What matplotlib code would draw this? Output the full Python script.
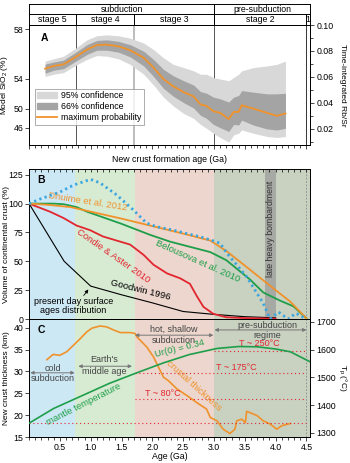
import matplotlib
matplotlib.use('Agg')
import matplotlib.pyplot as plt
from matplotlib.ticker import MultipleLocator, FixedLocator, NullFormatter
from matplotlib.patches import Patch
from matplotlib.lines import Line2D

plt.rcParams['font.family'] = ['Liberation Sans', 'DejaVu Sans']
plt.rcParams['font.size'] = 6.3
plt.rcParams['axes.linewidth'] = 0.7
plt.rcParams['mathtext.default'] = 'regular'

# ---------------- panel A: time-integrated Rb/Sr ----------------
age_a = [0.26, 0.40, 0.56, 0.76, 0.94, 1.10, 1.26, 1.45, 1.64, 1.86, 2.02, 2.18, 2.34, 2.51,
         2.67, 2.78, 2.88, 2.99, 3.10, 3.24, 3.32, 3.40, 3.45, 3.64, 3.86, 4.02, 4.16]
rbsr_max = [0.0664, 0.0685, 0.0697, 0.0755, 0.0811, 0.0846, 0.0849, 0.0836, 0.0806, 0.0748,
            0.0672, 0.0584, 0.0528, 0.0483, 0.0450, 0.0389, 0.0377, 0.0336, 0.0324, 0.0276,
            0.0331, 0.0331, 0.0382, 0.0356, 0.0324, 0.0301, 0.0319]
rbsr_66_hi = [0.0699, 0.0715, 0.0730, 0.0791, 0.0849, 0.0881, 0.0886, 0.0874, 0.0849, 0.0798,
              0.0735, 0.0659, 0.0609, 0.0571, 0.0538, 0.0488, 0.0475, 0.0445, 0.0432, 0.0407,
              0.0445, 0.0457, 0.0495, 0.0483, 0.0470, 0.0470, 0.0475]
rbsr_66_lo = [0.0629, 0.0652, 0.0664, 0.0722, 0.0773, 0.0806, 0.0806, 0.0791, 0.0755, 0.0685,
              0.0604, 0.0513, 0.0452, 0.0402, 0.0361, 0.0306, 0.0281, 0.0235, 0.0210, 0.0180,
              0.0235, 0.0230, 0.0268, 0.0230, 0.0200, 0.0192, 0.0205]
rbsr_95_hi = [0.0722, 0.0740, 0.0760, 0.0823, 0.0886, 0.0917, 0.0924, 0.0917, 0.0899, 0.0861,
              0.0811, 0.0748, 0.0697, 0.0672, 0.0647, 0.0621, 0.0621, 0.0596, 0.0584, 0.0571,
              0.0596, 0.0621, 0.0647, 0.0672, 0.0685, 0.0697, 0.0722]
rbsr_95_lo = [0.0604, 0.0621, 0.0634, 0.0690, 0.0735, 0.0765, 0.0760, 0.0740, 0.0697, 0.0621,
              0.0538, 0.0445, 0.0377, 0.0319, 0.0281, 0.0235, 0.0205, 0.0167, 0.0134, 0.0099,
              0.0154, 0.0167, 0.0192, 0.0167, 0.0142, 0.0134, 0.0142]
sio2_labels = ['58', '54', '50', '46']
sio2_at_rbsr = [0.0969, 0.0585, 0.0354, 0.0208]
rbsr_ticks = [0.02, 0.04, 0.06, 0.08, 0.10]

stage_names = ['stage 5', 'stage 4', 'stage 3', 'stage 2', '1']
stage_edges = [0, 0.76, 1.70, 3.0, 4.5, 4.56]
regime_names = ['subduction', 'pre-subduction']
regime_edges = [0, 3.0, 4.56]

# ---------------- panel B: crustal growth curves ----------------
goodwin_age = [0, 0.57, 1.0, 1.5, 2.0, 2.5, 3.0, 3.5, 4.0]
goodwin = [100, 50, 28.5, 21, 14, 6.5, 4, 2, 1]
condie_age = [0, 0.34, 0.56, 0.77, 0.99, 1.2, 1.42, 1.64, 1.86, 2.02, 2.24, 2.45, 2.61,
              2.72, 2.83, 2.99, 3.2, 3.5, 4.0]
condie = [100, 93, 87.5, 81, 77, 71.5, 68, 64.5, 55.5, 47, 39.5, 35.3, 30.5, 20, 10.5, 4.5,
          1.5, 0.8, 0.3]
dhuime_age = [0, 0.3, 0.67, 1.5, 2.0, 2.5, 2.94, 3.2, 3.59, 4.0, 4.24, 4.5]
dhuime = [100, 99, 97, 87, 80.5, 74, 68, 59, 42.5, 25, 15, 0.5]
belousova_age = [0, 0.4, 0.56, 0.77, 0.94, 1.5, 1.96, 2.29, 2.94, 3.2, 3.59, 3.8, 4.07,
                 4.29, 4.5]
belousova = [100, 100, 99.5, 97, 93, 82.5, 73, 67, 58, 51, 34, 23, 16, 11, 0.5]
dotted_age = [0, 0.18, 0.5, 0.72, 0.94, 1.0, 1.15, 1.42, 1.69, 1.91, 2.07, 2.34, 2.56,
              2.77, 2.99, 3.1, 3.21, 3.53, 3.8, 3.91, 4.05, 4.2, 4.33, 4.5]
dotted = [100, 104, 110, 116, 120, 121, 118, 107.6, 94.6, 83, 80, 77, 74, 71.4, 67.7,
          65.7, 57, 36.7, 13.6, 0, 6, 0, 5, 0]
lhb_span = [3.83, 4.0]

# ---------------- panel C: crustal thickness & mantle temperature ----------------
thick_age = [0.29, 0.39, 0.50, 0.61, 0.75, 0.83, 0.94, 1.02, 1.15, 1.26, 1.37, 1.48, 1.64,
             1.72, 1.75, 1.91, 2.02, 2.10, 2.18, 2.26, 2.40, 2.56, 2.72, 2.88, 2.94, 3.05,
             3.15, 3.26, 3.34, 3.37, 3.45, 3.51, 3.53, 3.70, 3.80, 3.91, 4.02, 4.10, 4.24]
thick = [32.7, 33.9, 33.7, 34.5, 36.4, 37.5, 39.1, 39.9, 40.4, 40.2, 39.5, 38.9, 38.9,
         38.7, 37.9, 35.6, 33.3, 31.0, 28.7, 27.9, 26.0, 24.5, 22.9, 21.4, 19.5, 18.7,
         16.8, 15.8, 16.8, 18.7, 19.1, 18.3, 20.9, 19.9, 18.7, 18.0, 16.8, 17.6, 18.1]
mantle_age = [0, 0.4, 0.94, 1.3, 1.72, 2.18, 2.6, 3.05, 3.4, 3.7, 4.0, 4.24, 4.56]
mantle_t = [1335, 1388, 1442, 1478, 1514, 1552, 1582, 1604, 1611, 1610, 1602, 1592, 1556]
iso_t = [1596, 1516, 1422, 1337]
iso_from = [3.0, 1.72, 1.72, 0.0]

region_edges = [0, 0.75, 1.72, 3.0, 4.56]
region_colors = ['#cde8f5', '#d7ebd3', '#ecd6cd', '#c9d1c1']

XMAX = 4.56
ORANGE = '#f0922b'
RED = '#e2262f'
GREEN = '#1f9e4a'
BLUE = '#3aa6df'
GREY_TXT = '#444444'
YLAB_X = -0.068
YLAB_SIZE = 6.0
RLAB_X = 1.115


def shade_regions(ax):
  for i, c in enumerate(region_colors):
    ax.axvspan(region_edges[i], region_edges[i + 1], color=c, lw=0, zorder=0)
  ax.axvline(4.5, color='#888888', lw=0.6, ls=(0, (2, 2)), zorder=1)


def draw_header(ax):
  ax.set_xlim(0, XMAX)
  ax.set_ylim(0, 2)
  ax.set_xticks([])
  ax.set_yticks([])
  ax.axhline(1, color='k', lw=0.7)
  for x in regime_edges[1:-1]:
    ax.plot([x, x], [0, 2], color='k', lw=0.7)
  for x in stage_edges[1:-1]:
    ax.plot([x, x], [0, 1], color='k', lw=0.7)
  for i, name in enumerate(regime_names):
    ax.text((regime_edges[i] + regime_edges[i + 1]) / 2, 1.48, name, ha='center', va='center')
  for i, name in enumerate(stage_names):
    ax.text((stage_edges[i] + stage_edges[i + 1]) / 2, 0.48, name, ha='center', va='center')


def draw_panel_a(ax):
  ax.fill_between(age_a, rbsr_95_lo, rbsr_95_hi, color='#d8d8d8', lw=0, zorder=1)
  ax.fill_between(age_a, rbsr_66_lo, rbsr_66_hi, color='#a4a4a4', lw=0, zorder=2)
  ax.plot(age_a, rbsr_max, color=ORANGE, lw=1.3, zorder=3)
  for x, c, w in [(0.76, '#555555', 0.7), (1.70, '#bdbdbd', 1.4), (3.0, '#555555', 0.7), (4.5, '#333333', 0.7)]:
    ax.axvline(x, color=c, lw=w, zorder=0)
  ax.set_xlim(0, XMAX)
  ax.set_ylim(0.0077, 0.10)
  ax.xaxis.set_major_locator(MultipleLocator(0.5))
  ax.xaxis.set_minor_locator(MultipleLocator(0.1))
  ax.xaxis.set_major_formatter(NullFormatter())
  ax.tick_params(axis='x', which='major', length=3, width=0.5)
  ax.tick_params(axis='x', which='minor', length=2, width=0.5)
  ax.yaxis.set_major_locator(FixedLocator(sio2_at_rbsr))
  ax.set_yticklabels(sio2_labels)
  ax.tick_params(axis='y', length=3, width=0.5, pad=1)
  ax.set_ylabel('Model SiO$_2$ (%)', fontsize=YLAB_SIZE)
  ax.yaxis.set_label_coords(YLAB_X, 0.5)
  ax.set_xlabel('New crust formation age (Ga)', labelpad=1)
  ax.text(0.04, 0.93, 'A', transform=ax.transAxes, fontweight='bold', fontsize=7.5, va='top')
  handles = [Patch(color='#d8d8d8'), Patch(color='#a4a4a4'), Line2D([], [], color=ORANGE, lw=1.3)]
  leg = ax.legend(handles, ['95% confidence', '66% confidence', 'maximum probability'],
                  loc='lower left', bbox_to_anchor=(0.02, 0.17), fancybox=False,
                  borderpad=0.3, labelspacing=0.2, handlelength=2.2, handletextpad=0.5,
                  borderaxespad=0, fontsize=6.3)
  leg.get_frame().set_edgecolor('#888888')
  leg.get_frame().set_linewidth(0.6)
  ax2 = ax.twinx()
  ax2.set_ylim(0.0077, 0.10)
  ax2.yaxis.set_major_locator(FixedLocator(rbsr_ticks))
  ax2.yaxis.set_minor_locator(MultipleLocator(0.01))
  ax2.set_yticklabels(['%.2f' % t for t in rbsr_ticks])
  ax2.tick_params(axis='y', which='major', length=3, width=0.5, pad=1.5)
  ax2.tick_params(axis='y', which='minor', length=2, width=0.5)
  ax2.set_ylabel('Time-integrated Rb/Sr', rotation=270, va='center', fontsize=YLAB_SIZE)
  ax2.yaxis.set_label_coords(RLAB_X, 0.5)


def draw_panel_b(ax):
  shade_regions(ax)
  ax.axvspan(lhb_span[0], lhb_span[1], color='#9c9c9c', alpha=0.75, lw=0, zorder=1)
  ax.plot(goodwin_age, goodwin, color='k', lw=0.8, zorder=3)
  ax.plot(condie_age, condie, color=RED, lw=1.3, zorder=3)
  ax.plot(belousova_age, belousova, color=GREEN, lw=1.3, zorder=3)
  ax.plot(dhuime_age, dhuime, color=ORANGE, lw=1.3, zorder=3)
  ax.plot(dotted_age, dotted, color=BLUE, lw=2.0, ls=(0, (0.8, 1.2)), zorder=4)
  ax.set_xlim(0, XMAX)
  ax.set_ylim(0, 130)
  ax.set_yticks([0, 25, 50, 75, 100, 125])
  ax.tick_params(axis='y', length=3, width=0.5, pad=1)
  ax.xaxis.set_minor_locator(MultipleLocator(0.1))
  ax.xaxis.set_major_locator(MultipleLocator(0.5))
  ax.tick_params(axis='x', which='both', bottom=False, top=True, labelbottom=False,
                 direction='in', length=2, width=0.5)
  ax.set_ylabel('Volume of continental crust (%)', fontsize=YLAB_SIZE)
  ax.yaxis.set_label_coords(YLAB_X, 0.5)
  ax.text(0.03, 0.96, 'B', transform=ax.transAxes, fontweight='bold', fontsize=7.5, va='top')
  ax.text(0.96, 101.5, 'Dhuime et al. 2012', color=ORANGE, fontsize=6.8, rotation=-9,
          ha='center', va='center')
  ax.text(1.36, 55, 'Condie & Aster 2010', color=RED, fontsize=6.8, rotation=-35,
          ha='center', va='center')
  ax.text(2.73, 50, 'Belousova et al. 2010', color=GREEN, fontsize=6.8, rotation=-24,
          ha='center', va='center')
  ax.text(1.8, 25, 'Goodwin 1996', color='k', fontsize=6.8, rotation=-14,
          ha='center', va='center')
  ax.text(0.72, 11, 'present day surface\nages distribution', color='k', fontsize=6.5,
          ha='center', va='center', linespacing=1.0)
  ax.annotate('', xy=(0.99, 27.5), xytext=(0.86, 18.5),
              arrowprops=dict(arrowstyle='-|>', lw=0.6, color='k', mutation_scale=5))
  ax.text(sum(lhb_span) / 2, 78, 'late heavy bombardment', rotation=90, color='#333333',
          fontsize=6.3, ha='center', va='center')


def draw_panel_c(ax):
  shade_regions(ax)
  ax.plot(thick_age, thick, color=ORANGE, lw=1.2, zorder=3)
  ax.set_xlim(0, XMAX)
  ax.set_ylim(15, 42)
  ax.set_yticks([15, 20, 25, 30, 35, 40])
  ax.tick_params(axis='y', length=3, width=0.5, pad=1)
  ax.xaxis.set_major_locator(FixedLocator([0.5, 1.0, 1.5, 2.0, 2.5, 3.0, 3.5, 4.0, 4.5]))
  ax.xaxis.set_minor_locator(MultipleLocator(0.1))
  ax.tick_params(axis='x', which='major', length=3, width=0.5, pad=1.5)
  ax.tick_params(axis='x', which='minor', length=2, width=0.5)
  ax.set_xlabel('Age (Ga)', labelpad=0)
  ax.set_ylabel('New crust thickness (km)', fontsize=YLAB_SIZE)
  ax.yaxis.set_label_coords(YLAB_X, 0.5)
  ax.text(0.03, 0.95, 'C', transform=ax.transAxes, fontweight='bold', fontsize=7.5, va='top')

  ax2 = ax.twinx()
  ax2.set_ylim(1285, 1710)
  ax2.set_yticks([1300, 1400, 1500, 1600, 1700])
  ax2.tick_params(axis='y', length=3, width=0.5, pad=1.5)
  ax2.set_ylabel('T$_p$ (°C)', rotation=270, va='center', fontsize=YLAB_SIZE)
  ax2.yaxis.set_label_coords(RLAB_X, 0.5)
  for t, x0 in zip(iso_t, iso_from):
    ax2.plot([x0, 4.5], [t, t], color=RED, lw=0.8, ls=(0, (1, 2.5)), zorder=2)
  ax2.plot(mantle_age, mantle_t, color=GREEN, lw=1.2, zorder=3)

  arrow = dict(arrowstyle='<|-|>', lw=0.7, color='#777777', mutation_scale=5,
               shrinkA=0, shrinkB=0)
  ax.annotate('', xy=(0.02, 29.7), xytext=(0.74, 29.7), arrowprops=arrow)
  ax.text(0.38, 30.7, 'cold', color=GREY_TXT, fontsize=6.5, ha='center', va='center')
  ax.text(0.38, 28.5, 'subduction', color=GREY_TXT, fontsize=6.5, ha='center', va='center')
  ax.annotate('', xy=(0.8, 31.2), xytext=(1.67, 31.2), arrowprops=arrow)
  ax.text(1.22, 32.7, "Earth's", color=GREY_TXT, fontsize=6.5, ha='center', va='center')
  ax.text(1.22, 30.0, 'middle age', color=GREY_TXT, fontsize=6.5, ha='center', va='center')
  ax.annotate('', xy=(1.72, 38.3), xytext=(2.99, 38.3), arrowprops=arrow)
  ax.text(2.34, 39.7, 'hot, shallow', color=GREY_TXT, fontsize=6.5, ha='center', va='center')
  ax.text(2.34, 37.0, 'subduction', color=GREY_TXT, fontsize=6.5, ha='center', va='center')
  ax.annotate('', xy=(3.01, 39.5), xytext=(4.5, 39.5), arrowprops=arrow)
  ax.text(3.86, 40.5, 'pre-subduction', color=GREY_TXT, fontsize=6.5, ha='center', va='center')
  ax.text(3.86, 38.3, 'regime', color=GREY_TXT, fontsize=6.5, ha='center', va='center')

  ax.text(0.88, 22.6, 'mantle temperature', color=GREEN, fontsize=6.8, rotation=27,
          ha='center', va='center')
  ax.text(2.45, 35.2, 'Ur(0) = 0.34', color=GREEN, fontsize=6.8, rotation=14,
          ha='center', va='center')
  ax.text(2.68, 26.8, 'crustal thickness', color=ORANGE, fontsize=6.8, rotation=-42,
          ha='center', va='center')
  ax.text(3.73, 36.5, 'T ~ 250°C', color=RED, fontsize=6.5, ha='center', va='center')
  ax.text(3.36, 31.0, 'T ~ 175°C', color=RED, fontsize=6.5, ha='center', va='center')
  ax.text(2.17, 24.9, 'T ~ 80°C', color=RED, fontsize=6.5, ha='center', va='center')


def main():
  fig = plt.figure(figsize=(3.5, 4.63), dpi=100)
  ax_h = fig.add_axes([0.083, 0.946, 0.803, 0.0454])
  ax_a = fig.add_axes([0.083, 0.687, 0.803, 0.259])
  ax_b = fig.add_axes([0.083, 0.311, 0.803, 0.324])
  ax_c = fig.add_axes([0.083, 0.056, 0.803, 0.255])
  draw_header(ax_h)
  draw_panel_a(ax_a)
  draw_panel_b(ax_b)
  draw_panel_c(ax_c)
  fig.savefig('out.png', dpi=100)


if __name__ == "__main__":
  main()
